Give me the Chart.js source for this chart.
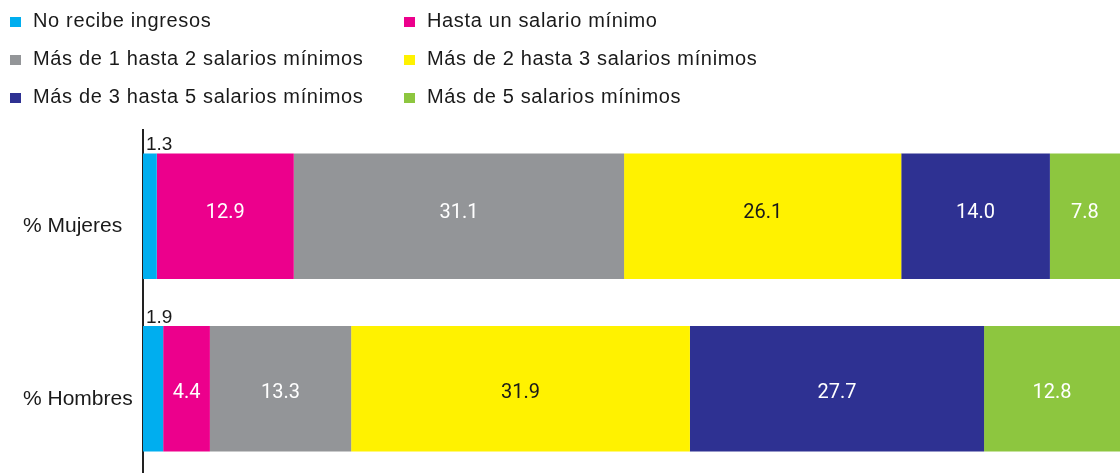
<!DOCTYPE html>
<html>
<head>
<meta charset="utf-8">
<title>Ingresos por sexo</title>
<script src="https://cdn.jsdelivr.net/npm/chart.js"></script>
<style>
  html, body { margin: 0; padding: 0; background: #fff; overflow: hidden; }
  #wrap { position: relative; width: 1120px; height: 475px; }
  #income-chart { position: absolute; left: 0; top: 0; }
  .item { position: absolute; font-family: "Liberation Sans", Arial, sans-serif; font-size: 20px; line-height: 20px; letter-spacing: 0.65px; color: #1a1a1a; white-space: nowrap; }
  .item i { position: absolute; left: -23px; top: 7px; width: 11px; height: 10px; }
</style>
</head>
<body>
<div id="wrap">
  <canvas id="income-chart" width="1120" height="475"></canvas>
  <div id="legend"></div>
</div>

<script>
// categories and series
const categories = ['% Mujeres', '% Hombres'];
const seriesNames = [
    'No recibe ingresos',
    'Hasta un salario mínimo',
    'Más de 1 hasta 2 salarios mínimos',
    'Más de 2 hasta 3 salarios mínimos',
    'Más de 3 hasta 5 salarios mínimos',
    'Más de 5 salarios mínimos'
];
const mujeres = [1.3, 12.9, 31.1, 26.1, 14.0, 7.8];
const hombres = [1.9, 4.4, 13.3, 31.9, 27.7, 12.8];

const colors = ['#00aeef', '#ec008c', '#939598', '#fff200', '#2e3192', '#8dc63f'];
const labelColors = ['#1a1a1a', '#ffffff', '#ffffff', '#1a1a1a', '#ffffff', '#ffffff'];

// legend in two columns
const legend = document.getElementById('legend');
seriesNames.forEach((name, i) => {
    const div = document.createElement('div');
    div.className = 'item';
    div.style.left = (i % 2 === 0 ? 33 : 427) + 'px';
    div.style.top = (10 + Math.floor(i / 2) * 37.8) + 'px';
    div.innerHTML = '<i style="background:' + colors[i] + '"></i>' + name;
    legend.appendChild(div);
});

// value labels on the bars
const barLabels = {
    id: 'barLabels',
    afterDatasetsDraw(chart) {
        const ctx = chart.ctx;
        const area = chart.chartArea;
        ctx.save();
        chart.data.datasets.forEach((ds, di) => {
            const meta = chart.getDatasetMeta(di);
            meta.data.forEach((el, j) => {
                const text = ds.data[j].toFixed(1);
                const end = Math.min(el.x, area.right);
                const w = end - el.base;
                if (w < 30) {
                    ctx.font = '19px "Liberation Sans", Arial, sans-serif';
                    ctx.fillStyle = '#1a1a1a';
                    ctx.textAlign = 'left';
                    ctx.textBaseline = 'alphabetic';
                    ctx.fillText(text, el.base + 3, el.y - el.height / 2 - 3);
                } else {
                    ctx.font = '20px Roboto, "Liberation Sans", sans-serif';
                    ctx.fillStyle = labelColors[di];
                    ctx.textAlign = 'center';
                    ctx.textBaseline = 'middle';
                    ctx.fillText(text, (el.base + end) / 2, el.y + (j === 0 ? -3 : 4));
                }
            });
        });
        ctx.restore();
    }
};

const ctx = document.getElementById('income-chart').getContext('2d');
new Chart(ctx, {
    type: 'bar',
    data: {
        labels: categories,
        datasets: seriesNames.map((name, i) => ({
            label: name,
            data: [mujeres[i], hombres[i]],
            backgroundColor: colors[i],
            borderWidth: 0,
            categoryPercentage: 1,
            barPercentage: 0.728
        }))
    },
    options: {
        indexAxis: 'y',
        responsive: false,
        animation: false,
        layout: { padding: { top: 130, left: 23, right: 0, bottom: 0 } },
        plugins: {
            legend: { display: false },
            tooltip: { enabled: false }
        },
        scales: {
            x: {
                display: false,
                stacked: true,
                min: 0,
                max: 92
            },
            y: {
                stacked: true,
                grid: { display: false },
                border: { color: '#222222', width: 2 },
                ticks: {
                    color: '#1a1a1a',
                    font: { family: '"Liberation Sans", Arial, sans-serif', size: 21 },
                    crossAlign: 'far',
                    labelOffset: 10
                },
                afterFit(scale) {
                    scale.width = 120;
                    scale.paddingTop = 0;
                    scale.paddingBottom = 0;
                }
            }
        }
    },
    plugins: [barLabels]
});
</script>
</body>
</html>
